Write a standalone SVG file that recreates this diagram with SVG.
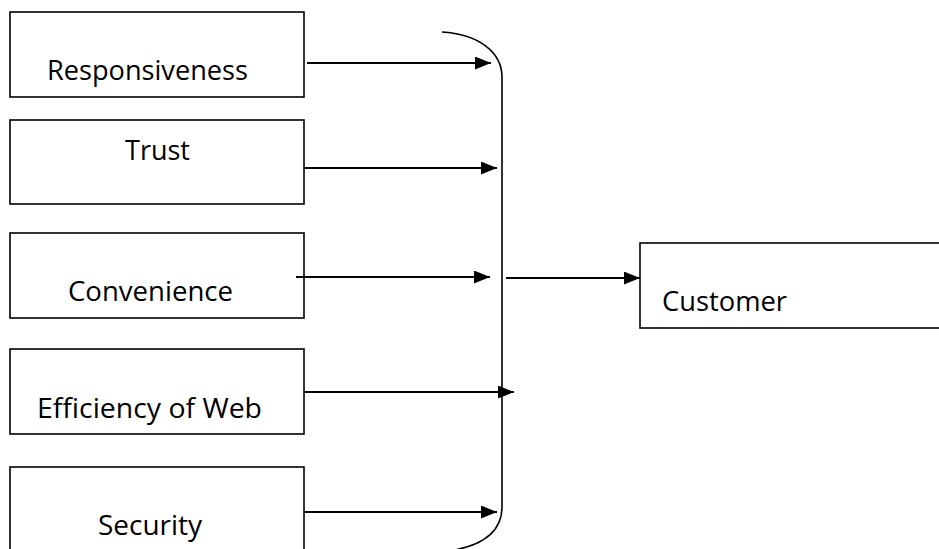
<svg xmlns="http://www.w3.org/2000/svg" width="939" height="549" viewBox="0 0 939 549">
  <style>
    .box { fill: #ffffff; stroke: #000000; stroke-width: 1.6; }
    .label { font-family: "Open Sans", "Noto Sans", "Liberation Sans", sans-serif; font-size: 27px; fill: #000000; }
    .link { stroke: #000000; stroke-width: 2; fill: none; }
    .brace { stroke: #000000; stroke-width: 1.6; fill: none; }
  </style>
  <defs>
    <marker id="arrow" markerWidth="16" markerHeight="13" refX="16" refY="6.5" orient="auto" markerUnits="userSpaceOnUse">
      <path d="M0,0 L16,6.5 L0,13 Z" fill="#000000"/>
    </marker>
  </defs>

  <rect width="939" height="549" fill="#ffffff"/>

  <g id="node-responsiveness">
    <rect class="box" x="10" y="12" width="294" height="85"/>
    <text class="label" x="47" y="80" textLength="201" lengthAdjust="spacingAndGlyphs">Responsiveness</text>
  </g>
  <g id="node-trust">
    <rect class="box" x="10" y="120" width="294" height="84"/>
    <text class="label" x="125" y="160" textLength="65" lengthAdjust="spacingAndGlyphs">Trust</text>
  </g>
  <g id="node-convenience">
    <rect class="box" x="10" y="233" width="294" height="85"/>
    <text class="label" x="68" y="301" textLength="165" lengthAdjust="spacingAndGlyphs">Convenience</text>
  </g>
  <g id="node-efficiency">
    <rect class="box" x="10" y="349" width="294" height="85"/>
    <text class="label" x="37" y="418" textLength="225" lengthAdjust="spacingAndGlyphs">Efficiency of Web</text>
  </g>
  <g id="node-security">
    <rect class="box" x="10" y="467" width="294" height="100"/>
    <text class="label" x="98" y="535" textLength="104" lengthAdjust="spacingAndGlyphs">Security</text>
  </g>
  <g id="node-customer">
    <rect class="box" x="640" y="243" width="310" height="85"/>
    <text class="label" x="662" y="311" textLength="125" lengthAdjust="spacingAndGlyphs">Customer</text>
  </g>

  <g id="connectors">
    <!-- bracket gathering the five factors -->
    <path class="brace" d="M442,32 C478,34 502,52 502,77 L502,507 C502,530 485,544 455,550"/>
    <line class="link" x1="307" y1="63" x2="491" y2="63" marker-end="url(#arrow)"/>
    <line class="link" x1="304" y1="168" x2="497" y2="168" marker-end="url(#arrow)"/>
    <line class="link" x1="296" y1="277" x2="490" y2="277" marker-end="url(#arrow)"/>
    <line class="link" x1="304" y1="392" x2="514" y2="392" marker-end="url(#arrow)"/>
    <line class="link" x1="304" y1="512" x2="497" y2="512" marker-end="url(#arrow)"/>
    <line class="link" x1="506" y1="278" x2="640" y2="278" stroke-width="1.6" marker-end="url(#arrow)"/>
  </g>
</svg>
